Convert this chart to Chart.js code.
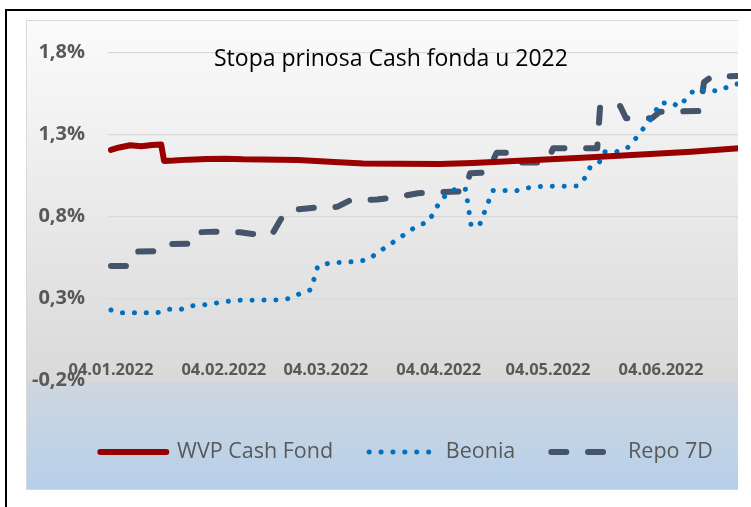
<!DOCTYPE html>
<html>
<head>
<meta charset="utf-8">
<script src="https://cdn.jsdelivr.net/npm/chart.js@4.4.0/dist/chart.umd.min.js"></script>
<style>
  body { margin: 0; background: #fff; width: 751px; height: 507px; overflow: hidden; position: relative; font-family: "Open Sans", sans-serif; }
  #frame { position: absolute; left: 5px; top: 9px; width: 800px; height: 600px; border: 2px solid #000; }
  #panel { position: absolute; left: 26px; top: 20px; width: 711px; height: 468px;
           border: 1px solid #d9d9d9; border-right: none;
           background: linear-gradient(to bottom, #fbfbfb 0px, #d9d9d9 360px, #cfd6df 361px, #b6d0ea 469px); }
  #title { position: absolute; left: 214px; top: 45.6px; font-size: 23px; line-height: 1; color: #000; white-space: nowrap; }
  /* the source picture is cut off at x=738, the chart itself runs on a bit further */
  #wrap { position: absolute; left: 0; top: 0; width: 738px; height: 507px; overflow: hidden; }
  #inner { position: absolute; left: 0; top: 0; width: 783px; height: 507px; }
</style>
</head>
<body>
<div id="frame"></div>
<div id="panel"></div>
<div id="wrap"><div id="inner"><canvas id="chart"></canvas></div></div>
<div id="title">Stopa prinosa Cash fonda u 2022</div>
<script>
// days counted from 04.01.2022
const xTickDays = [0, 31, 59, 90, 120, 151];
const xTickLabels = ['04.01.2022', '04.02.2022', '04.03.2022', '04.04.2022', '04.05.2022', '04.06.2022'];
const yTicks = [-0.2, 0.3, 0.8, 1.3, 1.8];

const cashDays = [0, 2.3, 5.3, 8.3, 11.3, 13.8, 14.6, 17.3, 21.3, 26.3, 31.3, 36.3, 41.3, 46.3, 51.3, 56.3, 61.3, 69.3, 79.3, 90.3,
  99.3, 109.3, 119.3, 129.3, 139.3, 149.3, 159.3, 177];
const cashValues = [1.207, 1.222, 1.236, 1.229, 1.237, 1.24, 1.14, 1.142, 1.148, 1.152, 1.154, 1.15, 1.149, 1.148, 1.145, 1.14, 1.133, 1.125, 1.123, 1.121,
  1.128, 1.138, 1.149, 1.16, 1.172, 1.184, 1.196, 1.225];

const beoniaDays = [0, 2.8, 12.8, 16, 19.2, 22.3, 25.6, 28.9, 32.1, 35.5, 45.4, 48.9, 51.8, 54.9, 56.8, 60.2, 63.6, 67, 70.3, 73.1,
  75.8, 78.7, 81.4, 84.3, 87, 88.8, 90.4, 92.7, 95.4, 97.4, 98.9, 101.2, 104.8, 111.4, 114.8, 118.1, 128.2, 130.2, 131.6, 134.1,
  135.4, 138.7, 141.6, 143.9, 145.9, 147.5, 149.2, 150.3, 153.5, 155.9, 158.1, 160.3, 163.7, 166.8, 169.9, 177];
const beoniaValues = [0.231, 0.215, 0.215, 0.235, 0.235, 0.257, 0.263, 0.274, 0.284, 0.29, 0.292, 0.30, 0.33, 0.355, 0.50, 0.518, 0.522, 0.526, 0.536, 0.577,
  0.621, 0.662, 0.705, 0.748, 0.766, 0.83, 0.898, 0.946, 0.977, 0.967, 0.743, 0.749, 0.959, 0.959, 0.977, 0.985, 0.987, 1.038, 1.105, 1.132,
  1.196, 1.196, 1.215, 1.272, 1.33, 1.376, 1.42, 1.487, 1.50, 1.471, 1.524, 1.577, 1.573, 1.566, 1.597, 1.64];

const repoDays = [0, 5.6, 7.3, 13.6, 15.8, 22.3, 23.7, 28.7, 35.5, 38.8, 44.3, 46.8, 49.8, 51.4, 56.9, 62.1, 65.7, 73.1, 78.6, 84.3,
  89.8, 97.2, 98.6, 103.3, 105.9, 110.1, 111.8, 119.7, 121.4, 133.5, 134.3, 139.8, 141.4, 148.5, 150.7, 161.7, 162.8, 165, 177];
const repoValues = [0.50, 0.50, 0.587, 0.59, 0.633, 0.635, 0.705, 0.709, 0.705, 0.695, 0.695, 0.79, 0.80, 0.845, 0.857, 0.86, 0.90, 0.905, 0.92, 0.943,
  0.95, 0.955, 1.065, 1.07, 1.19, 1.19, 1.13, 1.13, 1.217, 1.217, 1.475, 1.475, 1.40, 1.40, 1.44, 1.444, 1.62, 1.655, 1.66];

function pts(days, vals) {
    return days.map((d, i) => ({ x: d, y: vals[i] }));
}

const labelColor = '#595959';

const data = {
    datasets: [
        {
            label: 'WVP Cash Fond',
            data: pts(cashDays, cashValues),
            borderColor: '#990000',
            borderWidth: 6,
            borderCapStyle: 'round',
            borderJoinStyle: 'round',
            pointRadius: 0,
            tension: 0
        },
        {
            label: 'Beonia',
            data: pts(beoniaDays, beoniaValues),
            borderColor: '#0070c0',
            borderWidth: 5,
            borderDash: [0.1, 11.8],
            borderCapStyle: 'round',
            borderJoinStyle: 'round',
            pointRadius: 0,
            tension: 0
        },
        {
            label: 'Repo 7D',
            data: pts(repoDays, repoValues),
            borderColor: '#44546a',
            borderWidth: 6,
            borderDash: [15, 21.7],
            borderCapStyle: 'round',
            borderJoinStyle: 'round',
            pointRadius: 0,
            tension: 0
        }
    ]
};

const config = {
    type: 'line',
    data: data,
    options: {
        responsive: true,
        maintainAspectRatio: false,
        animation: false,
        layout: { padding: { left: 30.25, right: 0, top: 52.7, bottom: 34.25 } },
        plugins: {
            tooltip: { enabled: false },
            legend: {
                position: 'bottom',
                align: 'center',
                title: { display: true, text: '', padding: { top: 0, bottom: 10.15 } },
                labels: {
                    usePointStyle: true,
                    pointStyle: 'line',
                    pointStyleWidth: 66,
                    padding: 36,
                    color: labelColor,
                    font: { family: 'Open Sans', size: 21.5 },
                    generateLabels: (chart) => chart.data.datasets.map((ds, i) => ({
                        text: ds.label,
                        strokeStyle: ds.borderColor,
                        fillStyle: ds.borderColor,
                        lineWidth: ds.borderWidth,
                        lineDash: ds.borderDash || [],
                        lineCap: 'round',
                        pointStyle: 'line',
                        fontColor: labelColor,
                        hidden: false,
                        datasetIndex: i
                    }))
                }
            }
        },
        scales: {
            x: {
                type: 'linear',
                position: { y: 0 },
                min: -0.8,
                max: 184.5,
                grid: { display: false, drawTicks: false },
                border: { display: false },
                afterBuildTicks: (s) => { s.ticks = xTickDays.map(v => ({ value: v })); },
                ticks: {
                    autoSkip: false,
                    maxRotation: 0,
                    padding: 12.5,
                    color: labelColor,
                    font: { family: 'Open Sans', size: 16.5, weight: 'bold' },
                    callback: (v) => xTickLabels[xTickDays.indexOf(v)]
                }
            },
            y: {
                min: -0.2,
                max: 1.8,
                afterBuildTicks: (s) => { s.ticks = yTicks.map(v => ({ value: v })); },
                afterFit: (s) => { s.width = 77.75; },
                grid: { color: '#d9d9d9', lineWidth: 1.3, drawTicks: false },
                border: { display: false },
                ticks: {
                    padding: 23,
                    color: labelColor,
                    font: { family: 'Open Sans', size: 20, weight: 'bold' },
                    callback: (v) => v.toFixed(1).replace('.', ',') + '%'
                }
            }
        }
    }
};

const myChart = new Chart(document.getElementById('chart'), config);
</script>
</body>
</html>
